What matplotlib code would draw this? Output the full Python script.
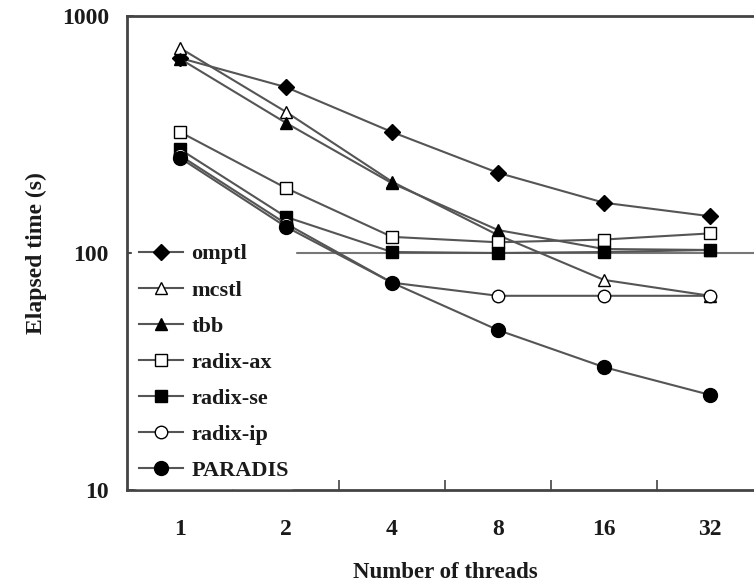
import numpy as np
import matplotlib
matplotlib.use("Agg")
import matplotlib.pyplot as plt
from matplotlib.ticker import FixedLocator, NullFormatter, NullLocator

plt.rcParams["font.family"] = ["Liberation Serif", "DejaVu Serif"]
plt.rcParams["font.weight"] = "bold"
plt.rcParams["axes.labelweight"] = "bold"

threads = ["1", "2", "4", "8", "16", "32"]

omptl    = [665, 501, 324, 218, 163, 143]
mcstl    = [733, 394, 200, 119, 77, 66]
tbb      = [660, 354, 197, 125, 104, 103]
radix_ax = [324, 188, 117, 111, 114, 121]
radix_se = [274, 142, 101, 100, 101, 103]
radix_ip = [258, 133, 75, 66, 66, 66]
paradis  = [252, 129, 75, 47.3, 33, 25.2]

series = [
    ("omptl",    omptl,    "D", "black", 8),
    ("mcstl",    mcstl,    "^", "white", 9),
    ("tbb",      tbb,      "^", "black", 9),
    ("radix-ax", radix_ax, "s", "white", 9),
    ("radix-se", radix_se, "s", "black", 9),
    ("radix-ip", radix_ip, "o", "white", 9),
    ("PARADIS",  paradis,  "o", "black", 10),
]

TXT = "#1a1a1a"
LINE = "#555555"

fig = plt.figure(figsize=(7.54, 5.87), dpi=100)
ax = fig.add_axes([0.1684, 0.1652, 0.8436, 0.8075])

x = np.arange(len(threads))
ax.axhline(100, color="#777777", lw=1.5, zorder=1)

for name, vals, mk, fc, ms in series:
    ax.plot(x, vals, color=LINE, lw=1.5, marker=mk, markersize=ms,
            markerfacecolor=fc, markeredgecolor="black", markeredgewidth=1.0,
            label=name, zorder=3)

ax.set_yscale("log")
ax.set_ylim(10, 1000)
ax.set_xlim(-0.5, len(threads) - 0.5)

ax.yaxis.set_major_locator(FixedLocator([10, 100, 1000]))
ax.yaxis.set_minor_locator(NullLocator())
ax.set_yticklabels(["10", "100", "1000"])
ax.tick_params(axis="y", direction="in", length=5, width=1.2, color="#444444",
               labelsize=17, labelcolor=TXT, pad=13)

ax.set_xticks(x)
ax.set_xticklabels(threads)
ax.set_xticks(np.arange(len(threads) - 1) + 0.5, minor=True)
ax.xaxis.set_minor_formatter(NullFormatter())
ax.tick_params(axis="x", which="major", length=0, labelsize=17,
               labelcolor=TXT, pad=21)
ax.tick_params(axis="x", which="minor", direction="in", length=7,
               width=1.2, color="#444444")

for s in ["left", "bottom", "top"]:
    ax.spines[s].set_linewidth(2)
    ax.spines[s].set_color("#444444")
ax.spines["right"].set_visible(False)

ax.set_xlabel("Number of threads", fontsize=16.5, color=TXT, labelpad=16)
ax.set_ylabel("Elapsed time (s)", fontsize=17, color=TXT, labelpad=11)

leg = ax.legend(loc="lower left", bbox_to_anchor=(0.005, 0.0), fontsize=16,
                frameon=True, facecolor="white", edgecolor="white",
                framealpha=1.0, handlelength=2.0, handletextpad=0.35,
                labelspacing=0.70, borderpad=0.3, borderaxespad=0.1)
leg.set_zorder(5)
for t in leg.get_texts():
    t.set_color(TXT)

fig.savefig("out.png", dpi=100)
